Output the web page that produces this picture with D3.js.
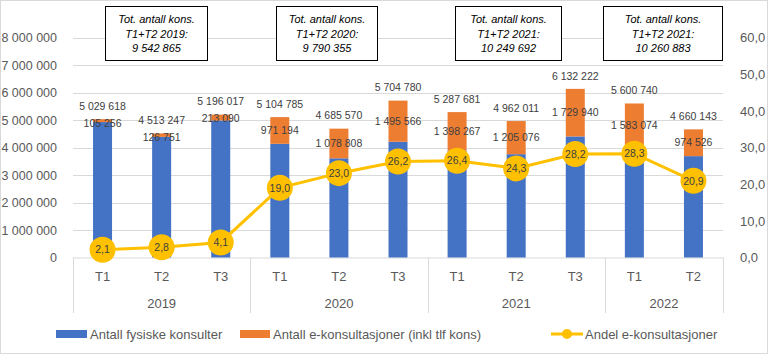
<!DOCTYPE html>
<html>
<head>
<meta charset="utf-8">
<script src="https://cdn.jsdelivr.net/npm/d3@7"></script>
<style>
  body { margin: 0; background: #fff; }
  text { font-family: "Liberation Sans", Arial, sans-serif; }
</style>
</head>
<body>
<script>
//width and height
var w = 768;
var h = 354;

//categories
var years = ["2019", "2020", "2021", "2022"];
var periods = ["T1", "T2", "T3", "T1", "T2", "T3", "T1", "T2", "T3", "T1", "T2"];
var periodYears = ["2019", "2019", "2019", "2020", "2020", "2020", "2021", "2021", "2021", "2022", "2022"];

//series values
var totals = [5029618, 4513247, 5196017, 5104785, 4685570, 5704780, 5287681, 4962011, 6132222, 5600740, 4660143];
var eKons = [105256, 126751, 213090, 971194, 1078808, 1495566, 1398267, 1205076, 1729940, 1583074, 974526];
var andel = [2.1, 2.8, 4.1, 19.0, 23.0, 26.2, 26.4, 24.3, 28.2, 28.3, 20.9];

//annotation boxes
var boxTexts = [
    ["Tot. antall kons.", "T1+T2 2019:", "9 542 865"],
    ["Tot. antall kons.", "T1+T2 2020:", "9 790 355"],
    ["Tot. antall kons.", "T1+T2 2021:", "10 249 692"],
    ["Tot. antall kons.", "T1+T2 2021:", "10 260 883"]
];

//tick labels
var leftTicks = [0, 1000000, 2000000, 3000000, 4000000, 5000000, 6000000, 7000000, 8000000];
var rightTicks = [0, 10, 20, 30, 40, 50, 60];

var legendNames = ["Antall fysiske konsulter", "Antall e-konsultasjoner (inkl tlf kons)", "Andel e-konsultasjoner"];

var colBlue = "#4472C4", colOrange = "#ED7D31", colYellow = "#FFC000";

//build rows
var rows = periods.map(function(p, i) {
    return {
        key: i,
        period: p,
        year: periodYears[i],
        total: totals[i],
        e: eKons[i],
        fys: totals[i] - eKons[i],
        andel: andel[i]
    };
});

var plotLeft = 73, plotRight = 723, plotTop = 37.5, plotBottom = 257.5;

var x = d3.scaleBand()
    .domain(rows.map(function(d) { return d.key; }))
    .range([plotLeft, plotRight]);

var y = d3.scaleLinear().domain([0, 8000000]).range([plotBottom, plotTop]);
var y2 = d3.scaleLinear().domain([0, 60]).range([plotBottom, plotTop]);

var fmt = function(v) { return d3.format(",")(v).replace(/,/g, " "); };
var fmtPct = function(v) { return v.toFixed(1).replace(".", ","); };

var svg = d3.select("body")
    .append("svg")
    .attr("width", w)
    .attr("height", h);

//chart frame
svg.append("rect")
    .attr("x", 0.5).attr("y", 0.5)
    .attr("width", w - 1).attr("height", h - 1)
    .attr("fill", "#fff")
    .attr("stroke", "#d9d9d9");

//gridlines
svg.append("g")
    .selectAll("line")
    .data(leftTicks.slice(1))
    .enter()
    .append("line")
    .attr("x1", plotLeft).attr("x2", plotRight)
    .attr("y1", function(d) { return Math.round(y(d)) + 0.5; })
    .attr("y2", function(d) { return Math.round(y(d)) + 0.5; })
    .attr("stroke", "#d9d9d9");

//left axis
var leftAxis = svg.append("g")
    .attr("transform", "translate(" + (plotLeft - 13) + ",0)")
    .call(d3.axisLeft(y).tickValues(leftTicks).tickSize(0).tickFormat(fmt));
leftAxis.select(".domain").remove();
leftAxis.selectAll("text").attr("font-size", 12.5).attr("fill", "#595959")
    .attr("font-family", "Liberation Sans, Arial, sans-serif");

//right axis
var rightAxis = svg.append("g")
    .attr("transform", "translate(" + (plotRight + 14) + ",0)")
    .call(d3.axisRight(y2).tickValues(rightTicks).tickSize(0).tickFormat(fmtPct));
rightAxis.select(".domain").remove();
rightAxis.selectAll("text").attr("font-size", 13).attr("fill", "#595959")
    .attr("font-family", "Liberation Sans, Arial, sans-serif");

//x axis baseline and group separators
svg.append("line")
    .attr("x1", plotLeft).attr("x2", plotRight)
    .attr("y1", plotBottom + 0.5).attr("y2", plotBottom + 0.5)
    .attr("stroke", "#d9d9d9");

var groupEdges = [0];
rows.forEach(function(d, i) {
    if (i > 0 && d.year != rows[i - 1].year) groupEdges.push(i);
});
groupEdges.push(rows.length);

svg.append("g")
    .selectAll("line")
    .data(groupEdges)
    .enter()
    .append("line")
    .attr("x1", function(i) { return Math.round(i < rows.length ? x(i) : plotRight) + 0.5; })
    .attr("x2", function(i) { return Math.round(i < rows.length ? x(i) : plotRight) + 0.5; })
    .attr("y1", plotBottom)
    .attr("y2", 313)
    .attr("stroke", "#d9d9d9");

//period labels
svg.append("g")
    .selectAll("text")
    .data(rows)
    .enter()
    .append("text")
    .attr("x", function(d) { return x(d.key) + x.bandwidth() / 2; })
    .attr("y", 281)
    .attr("text-anchor", "middle")
    .attr("font-size", 13)
    .attr("fill", "#595959")
    .text(function(d) { return d.period; });

//year labels
svg.append("g")
    .selectAll("text")
    .data(years)
    .enter()
    .append("text")
    .attr("x", function(yr) {
        var idx = rows.filter(function(r) { return r.year == yr; }).map(function(r) { return r.key; });
        var x0 = x(idx[0]);
        var x1 = x(idx[idx.length - 1]) + x.bandwidth();
        return (x0 + x1) / 2;
    })
    .attr("y", 308)
    .attr("text-anchor", "middle")
    .attr("font-size", 13)
    .attr("fill", "#595959")
    .text(function(d) { return d; });

//stacked bars
var barW = 19;
var bars = svg.append("g");
bars.selectAll("rect.fys")
    .data(rows)
    .enter()
    .append("rect")
    .attr("class", "fys")
    .attr("x", function(d) { return x(d.key) + x.bandwidth() / 2 - barW / 2; })
    .attr("width", barW)
    .attr("y", function(d) { return y(d.fys); })
    .attr("height", function(d) { return y(0) - y(d.fys); })
    .attr("fill", colBlue);

bars.selectAll("rect.e")
    .data(rows)
    .enter()
    .append("rect")
    .attr("class", "e")
    .attr("x", function(d) { return x(d.key) + x.bandwidth() / 2 - barW / 2; })
    .attr("width", barW)
    .attr("y", function(d) { return y(d.total); })
    .attr("height", function(d) { return y(d.fys) - y(d.total); })
    .attr("fill", colOrange);

//total labels
svg.append("g")
    .selectAll("text")
    .data(rows)
    .enter()
    .append("text")
    .attr("x", function(d) { return x(d.key) + x.bandwidth() / 2; })
    .attr("y", function(d) { return y(d.total) - 13; })
    .attr("dy", "0.35em")
    .attr("text-anchor", "middle")
    .attr("font-size", 10.5)
    .attr("fill", "#404040")
    .text(function(d) { return fmt(d.total); });

//e-konsultasjon labels
svg.append("g")
    .selectAll("text")
    .data(rows)
    .enter()
    .append("text")
    .attr("x", function(d) { return x(d.key) + x.bandwidth() / 2; })
    .attr("y", function(d) { return Math.max((y(d.total) + y(d.fys)) / 2, y(d.total) + 4); })
    .attr("dy", "0.35em")
    .attr("text-anchor", "middle")
    .attr("font-size", 10.5)
    .attr("fill", "#404040")
    .text(function(d) { return fmt(d.e); });

//line for andel
var line = d3.line()
    .x(function(d) { return x(d.key) + x.bandwidth() / 2; })
    .y(function(d) { return y2(d.andel); });

svg.append("path")
    .datum(rows)
    .attr("d", line)
    .attr("fill", "none")
    .attr("stroke", colYellow)
    .attr("stroke-width", 3);

svg.append("g")
    .selectAll("circle")
    .data(rows)
    .enter()
    .append("circle")
    .attr("cx", function(d) { return x(d.key) + x.bandwidth() / 2; })
    .attr("cy", function(d) { return y2(d.andel); })
    .attr("r", 13)
    .attr("fill", colYellow);

svg.append("g")
    .selectAll("text")
    .data(rows)
    .enter()
    .append("text")
    .attr("x", function(d) { return x(d.key) + x.bandwidth() / 2; })
    .attr("y", function(d) { return y2(d.andel); })
    .attr("dy", "0.35em")
    .attr("text-anchor", "middle")
    .attr("font-size", 10.5)
    .attr("fill", "#404040")
    .text(function(d) { return fmtPct(d.andel); });

//annotation boxes, placed over the T1..T2 of each year
var boxLayout = [[105, 102], [276, 101], [455, 106], [603, 119]];
var boxes = svg.append("g")
    .selectAll("g")
    .data(boxTexts)
    .enter()
    .append("g")
    .attr("transform", function(d, i) { return "translate(" + boxLayout[i][0] + ",6)"; });

boxes.append("rect")
    .attr("x", 0.5).attr("y", 0.5)
    .attr("width", function(d, i) { return boxLayout[i][1]; })
    .attr("height", 54)
    .attr("fill", "#fff")
    .attr("stroke", "#000")
    .attr("stroke-width", 1);

boxes.each(function(d, i) {
    d3.select(this).selectAll("text")
        .data(d)
        .enter()
        .append("text")
        .attr("x", boxLayout[i][1] / 2 + 0.5)
        .attr("y", function(t, j) { return 13.5 + j * 14.5; })
        .attr("dy", "0.35em")
        .attr("text-anchor", "middle")
        .attr("font-size", 11)
        .attr("font-style", "italic")
        .attr("fill", "#000")
        .text(function(t) { return t; });
});

//legend
var legend = svg.append("g").attr("transform", "translate(0,334)");
legend.append("rect").attr("x", 56).attr("y", -4).attr("width", 31).attr("height", 8).attr("fill", colBlue);
legend.append("text").attr("x", 90).attr("dy", "0.35em").attr("font-size", 13).attr("fill", "#595959").text(legendNames[0]);
legend.append("rect").attr("x", 240).attr("y", -4).attr("width", 30).attr("height", 8).attr("fill", colOrange);
legend.append("text").attr("x", 273).attr("dy", "0.35em").attr("font-size", 13).attr("fill", "#595959").text(legendNames[1]);
legend.append("line").attr("x1", 551).attr("x2", 583).attr("stroke", colYellow).attr("stroke-width", 3);
legend.append("circle").attr("cx", 567).attr("r", 5).attr("fill", colYellow);
legend.append("text").attr("x", 585).attr("dy", "0.35em").attr("font-size", 13).attr("fill", "#595959").text(legendNames[2]);
</script>
</body>
</html>
